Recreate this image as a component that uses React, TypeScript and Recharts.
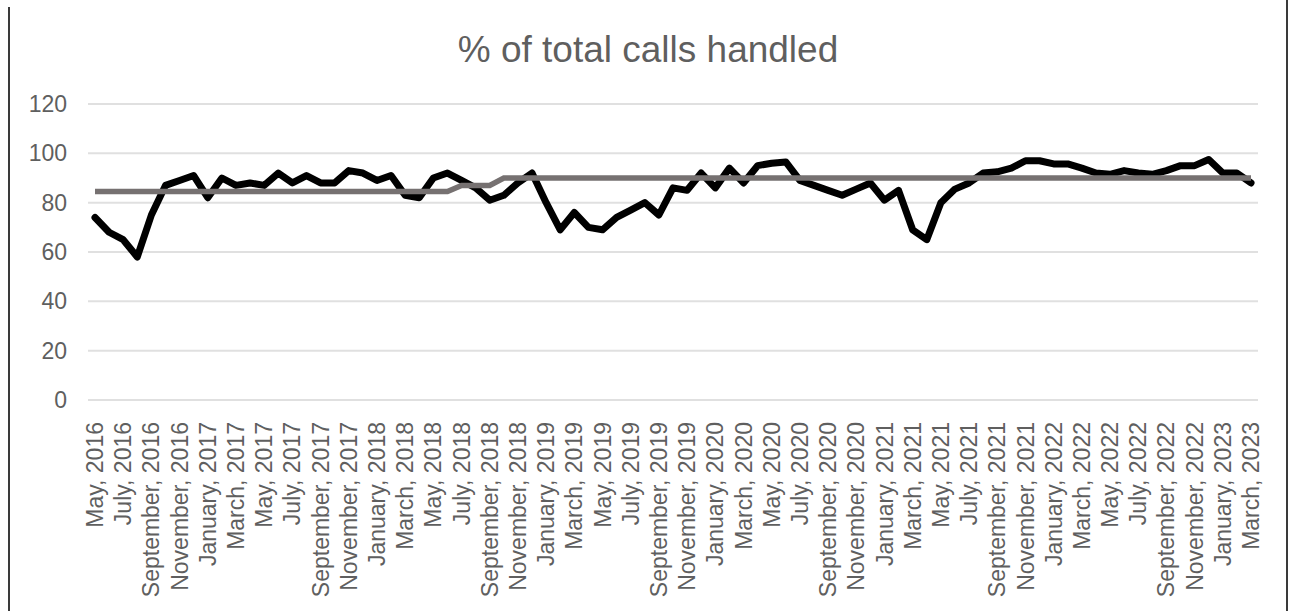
import React from 'react';
import { LineChart, Line, XAxis, YAxis, CartesianGrid } from 'recharts';

// Month categories, May 2016 - March 2023
const months = [
  'May, 2016', 'June, 2016', 'July, 2016', 'August, 2016', 'September, 2016', 'October, 2016', 'November, 2016', 'December, 2016',
  'January, 2017', 'February, 2017', 'March, 2017', 'April, 2017', 'May, 2017', 'June, 2017', 'July, 2017', 'August, 2017', 'September, 2017', 'October, 2017', 'November, 2017', 'December, 2017',
  'January, 2018', 'February, 2018', 'March, 2018', 'April, 2018', 'May, 2018', 'June, 2018', 'July, 2018', 'August, 2018', 'September, 2018', 'October, 2018', 'November, 2018', 'December, 2018',
  'January, 2019', 'February, 2019', 'March, 2019', 'April, 2019', 'May, 2019', 'June, 2019', 'July, 2019', 'August, 2019', 'September, 2019', 'October, 2019', 'November, 2019', 'December, 2019',
  'January, 2020', 'February, 2020', 'March, 2020', 'April, 2020', 'May, 2020', 'June, 2020', 'July, 2020', 'August, 2020', 'September, 2020', 'October, 2020', 'November, 2020', 'December, 2020',
  'January, 2021', 'February, 2021', 'March, 2021', 'April, 2021', 'May, 2021', 'June, 2021', 'July, 2021', 'August, 2021', 'September, 2021', 'October, 2021', 'November, 2021', 'December, 2021',
  'January, 2022', 'February, 2022', 'March, 2022', 'April, 2022', 'May, 2022', 'June, 2022', 'July, 2022', 'August, 2022', 'September, 2022', 'October, 2022', 'November, 2022', 'December, 2022',
  'January, 2023', 'February, 2023', 'March, 2023',
];

// % of total calls handled (black line)
const handled = [
  74, 68, 65, 58, 75, 87, 89, 91,
  82, 90, 87, 88, 87, 92, 88, 91, 88, 88, 93, 92,
  89, 91, 83, 82, 90, 92, 89, 86, 81, 83, 88, 92,
  80, 69, 76, 70, 69, 74, 77, 80, 75, 86, 85, 92,
  86, 94, 88, 95, 96, 96.5, 89, 87, 85, 83, 85.5, 88,
  81, 85, 69, 65, 80, 85.5, 88, 92, 92.5, 94, 97, 97,
  95.7, 95.7, 94, 92, 91.5, 93, 92, 91.5, 93, 95, 95, 97.5,
  92, 92, 88,
];

// target (grey line)
const target = [
  84.5, 84.5, 84.5, 84.5, 84.5, 84.5, 84.5, 84.5,
  84.5, 84.5, 84.5, 84.5, 84.5, 84.5, 84.5, 84.5, 84.5, 84.5, 84.5, 84.5,
  84.5, 84.5, 84.5, 84.5, 84.5, 84.5, 87, 87, 87, 90, 90, 90,
  90, 90, 90, 90, 90, 90, 90, 90, 90, 90, 90, 90,
  90, 90, 90, 90, 90, 90, 90, 90, 90, 90, 90, 90,
  90, 90, 90, 90, 90, 90, 90, 90, 90, 90, 90, 90,
  90, 90, 90, 90, 90, 90, 90, 90, 90, 90, 90, 90,
  90, 90, 90,
];

const yTicks = [0, 20, 40, 60, 80, 100, 120];

const FONT = '"Liberation Sans", Arial, sans-serif';
const TEXT_COLOR = '#5f5f5f';

const data = months.map((m, i) => ({ month: m, handled: handled[i], target: target[i] }));

const MonthTick = ({ x, y, payload }: any) => (
  <g transform={`translate(${x},${y})`}>
    <text
      transform="rotate(-90)"
      x={-14}
      y={0}
      dy="0.35em"
      textAnchor="end"
      fill={TEXT_COLOR}
      fontSize={23}
      fontFamily={FONT}
    >
      {payload.value}
    </text>
  </g>
);

export default function App() {
  return (
    <div style={{ position: 'relative', width: 1293, height: 611, background: '#fff', overflow: 'hidden' }}>
      <style>{`body{margin:0;}`}</style>
      {/* frame edges */}
      <div style={{ position: 'absolute', left: 8, top: 7, width: 2, height: 604, background: '#3a3a3a' }} />
      <div style={{ position: 'absolute', left: 1286, top: 0, width: 2, height: 611, background: '#3a3a3a' }} />
      <svg width={1293} height={80} style={{ position: 'absolute', left: 0, top: 0 }}>
        <text x={648} y={62} textAnchor="middle" fill={TEXT_COLOR} fontSize={37} fontFamily={FONT}>
          % of total calls handled
        </text>
      </svg>
      <LineChart
        width={1293}
        height={611}
        data={data}
        margin={{ top: 104, right: 35, bottom: 0, left: 0 }}
      >
        <CartesianGrid vertical={false} stroke="#e0e0e0" strokeWidth={2} />
        <XAxis
          dataKey="month"
          interval={1}
          axisLine={false}
          tickLine={false}
          height={211}
          padding={{ left: 7, right: 7 }}
          tick={<MonthTick />}
        />
        <YAxis
          domain={[0, 120]}
          ticks={yTicks}
          width={88}
          axisLine={false}
          tickLine={false}
          tickSize={0}
          tickMargin={21}
          tick={{ fill: TEXT_COLOR, fontSize: 23, fontFamily: FONT }}
        />
        <Line
          type="linear"
          dataKey="handled"
          stroke="#000000"
          strokeWidth={7}
          strokeLinejoin="round"
          strokeLinecap="round"
          dot={false}
          isAnimationActive={false}
        />
        <Line
          type="linear"
          dataKey="target"
          stroke="#767171"
          strokeWidth={5.5}
          dot={false}
          isAnimationActive={false}
        />
      </LineChart>
    </div>
  );
}
